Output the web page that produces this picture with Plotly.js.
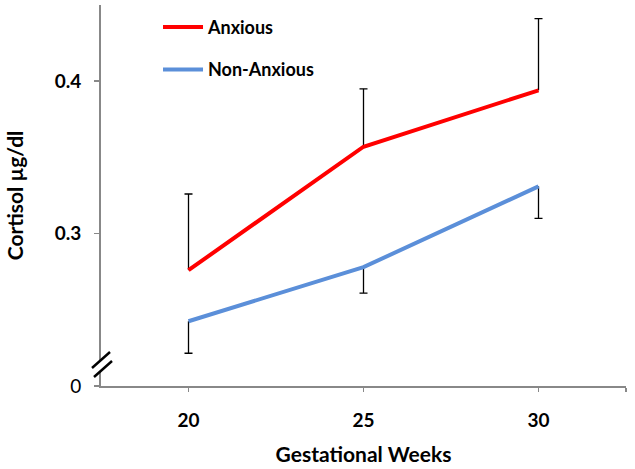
<!DOCTYPE html>
<html><head><meta charset="utf-8">
<script src="https://cdn.plot.ly/plotly-3.0.1.min.js"></script>
<style>html,body{margin:0;padding:0;background:#fff}#c{width:635px;height:469px}</style>
</head><body><div id="c"></div>
<script>
const weeks = [20, 25, 30];
const anxious = [0.276, 0.357, 0.394];
const anxiousErrUp = [0.050, 0.038, 0.047];
const nonAnxious = [0.2425, 0.278, 0.331];
const nonAnxiousErrDown = [0.021, 0.017, 0.021];
const zeros = [0, 0, 0];
const yTickVals = [0.2, 0.3, 0.4];
const yTickText = ['0', '<b>0.3</b>', '<b>0.4</b>'];
const xTickVals = [20, 25, 30, 32.5];
const xTickText = ['<b>20</b>', '<b>25</b>', '<b>30</b>', ''];

const font = 'Lato, "Open Sans", sans-serif';
const anxTop = anxious.map((v, i) => v + anxiousErrUp[i]);
const nonBottom = nonAnxious.map((v, i) => v - nonAnxiousErrDown[i]);
const hidden = {color: 'rgba(0,0,0,0)', width: 0};
const traces = [
  // error bar stems (no caps)
  {x: weeks, y: anxious, mode: 'lines', type: 'scatter', showlegend: false, hoverinfo: 'skip', line: hidden,
   error_y: {type: 'data', symmetric: false, array: anxiousErrUp, arrayminus: zeros, color: '#000', thickness: 1.3, width: 0}},
  {x: weeks, y: nonAnxious, mode: 'lines', type: 'scatter', showlegend: false, hoverinfo: 'skip', line: hidden,
   error_y: {type: 'data', symmetric: false, array: zeros, arrayminus: nonAnxiousErrDown, color: '#000', thickness: 1.3, width: 0}},
  // caps at the far ends only
  {x: weeks, y: anxTop, mode: 'lines', type: 'scatter', showlegend: false, hoverinfo: 'skip', line: hidden,
   error_y: {type: 'data', array: zeros, color: '#000', thickness: 1.3, width: 4}},
  {x: weeks, y: nonBottom, mode: 'lines', type: 'scatter', showlegend: false, hoverinfo: 'skip', line: hidden,
   error_y: {type: 'data', array: zeros, color: '#000', thickness: 1.3, width: 4}},
  {x: weeks, y: anxious, name: '<b>Anxious</b>', legendgroup: 'a', mode: 'lines', type: 'scatter',
   line: {color: '#ff0000', width: 4}},
  {x: weeks, y: nonAnxious, name: '<b>Non-Anxious</b>', legendgroup: 'b', mode: 'lines', type: 'scatter',
   line: {color: '#5b8fd9', width: 4}}
];
const layout = {
  width: 635, height: 469,
  margin: {l: 101, r: 9, t: 5, b: 83},
  paper_bgcolor: '#fff', plot_bgcolor: '#fff',
  font: {family: font, color: '#000', size: 15},
  showlegend: true,
  legend: {x: 0.1086, y: 0.99, xanchor: 'left', yanchor: 'top', bgcolor: 'rgba(0,0,0,0)',
           font: {size: 18, family: font}, tracegroupgap: 16, itemwidth: 40},
  xaxis: {range: [17.5, 32.5], tickvals: xTickVals, ticktext: xTickText,
          showline: true, linecolor: '#888', linewidth: 2, ticks: 'outside', ticklen: 4,
          tickcolor: '#888', tickwidth: 1.5, showgrid: false, zeroline: false,
          tickfont: {size: 19}, ticklabelstandoff: 12, fixedrange: true,
          title: {text: '<b>Gestational Weeks</b>', font: {size: 21}, standoff: 18}},
  yaxis: {range: [0.2, 0.45], tickvals: yTickVals, ticktext: yTickText,
          showline: true, linecolor: '#888', linewidth: 2, ticks: 'outside', ticklen: 5,
          tickcolor: '#888', tickwidth: 1.5, showgrid: false, zeroline: false,
          tickfont: {size: 19}, ticklabelstandoff: 9,
          title: {text: '<b>Cortisol µg/dl</b>', font: {size: 21}, standoff: 25}},
  shapes: [
    {type: 'line', xref: 'paper', yref: 'paper', x0: -0.0095, y0: 0, x1: 0, y1: 0, line: {color: '#888', width: 2}},
    {type: 'path', xref: 'paper', yref: 'paper',
     path: 'M -0.01714 0.04724 L 0.01714 0.08924 L 0.02095 0.06562 L -0.01333 0.02362 Z',
     fillcolor: '#fff', line: {width: 0}},
    {type: 'line', xref: 'paper', yref: 'paper', x0: -0.01714, y0: 0.04724, x1: 0.01714, y1: 0.08924, line: {color: '#000', width: 2.5}},
    {type: 'line', xref: 'paper', yref: 'paper', x0: -0.01333, y0: 0.02362, x1: 0.02095, y1: 0.06562, line: {color: '#000', width: 2.5}}
  ]
};
Plotly.newPlot('c', traces, layout, {staticPlot: true});
</script></body></html>
